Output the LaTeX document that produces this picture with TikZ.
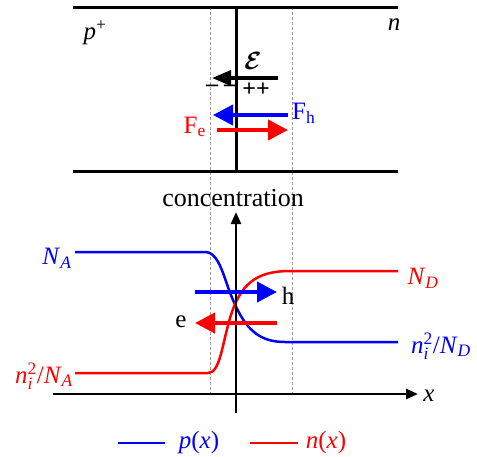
\documentclass[tikz,border=0pt]{standalone}
\usepackage{amsmath}
\usepackage{fontspec}
\setmainfont{Liberation Serif}
\usetikzlibrary{arrows.meta}
\definecolor{myred}{RGB}{255,0,0}
\definecolor{myblue}{RGB}{0,0,255}
\newcommand{\nisq}{$\text{\textit{n}}_{\text{\textit{i}}}^{\text{2}}$}
\begin{document}
\begin{tikzpicture}[x=1pt,y=-1pt,
  lbl/.style={font=\fontsize{25}{28}\selectfont, inner sep=0pt},
  thickline/.style={line width=3pt},
  guide/.style={gray!80, line width=0.6pt, dash pattern=on 3pt off 2pt},
  bigarrow/.style={line width=4pt, -{Triangle[length=20pt,width=20pt]}},
  earrow/.style={line width=3.5pt, -{Triangle[length=19pt,width=15pt]}},
  axis/.style={line width=2.5pt, -{Triangle[length=12pt,width=10pt]}},
  curve/.style={line width=2.5pt},
  charge/.style={font=\fontsize{24}{24}\selectfont\bfseries, inner sep=0pt},
]
\useasboundingbox (0,0) rectangle (477,456);
% guides
\coordinate (g1t) at (210,7);
\coordinate (g1b) at (210,393);
\coordinate (g2t) at (292,7);
\coordinate (g2b) at (292,393);
\draw[guide] (g1t) -- (g1b);
\draw[guide] (g2t) -- (g2b);
% top panel
\coordinate (tl) at (73,7);
\coordinate (tr) at (398,7);
\coordinate (bl) at (73,171);
\coordinate (br) at (398,171);
\coordinate (jt) at (236,7);
\coordinate (jb) at (236,171);
\draw[thickline] (tl) -- (tr);
\draw[thickline] (bl) -- (br);
\draw[thickline] (jt) -- (jb);
\node[lbl] (pplus) at (95,33) {\textit{p}\textsuperscript{+}};
\node[lbl] (nlab) at (394,25) {\textit{n}};
\coordinate (Es) at (278,78);
\coordinate (Ee) at (212,78);
\draw[earrow] (Es) -- (Ee);
\node[lbl, font=\fontsize{32}{34}\selectfont] (Elab) at (253,61) {$\boldsymbol{\mathcal{E}}$};
\node[charge] (minus) at (221,88) {– –};
\node[charge] (plus) at (256,90) {++};
\coordinate (Fhs) at (288,115);
\coordinate (Fhe) at (213,115);
\draw[bigarrow, myblue] (Fhs) -- (Fhe);
\node[lbl, myblue, anchor=west] (Fh) at (292,113) {F\textsubscript{h}};
\coordinate (Fes) at (217,130);
\coordinate (Fee) at (288,130);
\draw[bigarrow, myred] (Fes) -- (Fee);
\node[lbl, myred, anchor=east] (Fe) at (206,127) {F\textsubscript{e}};
% bottom panel
\node[lbl, font=\fontsize{26}{28}\selectfont] (conc) at (233,198) {concentration};
\coordinate (ya) at (236,413);
\coordinate (yb) at (236,212);
\coordinate (xa) at (53,394);
\coordinate (xb) at (418,394);
% curves
\draw[curve, myblue] (75,252) -- (205,252) .. controls (220,252) and (224,280) .. (233,300) .. controls (245,328) and (258,342) .. (285,342) -- (398,342);
\draw[curve, myred] (75,373) -- (208,373) .. controls (220,373) and (222,345) .. (230,318) .. controls (240,285) and (255,271) .. (290,271) -- (398,271);
\draw[axis] (ya) -- (yb);
\draw[axis] (xa) -- (xb);
\node[lbl] (xlab) at (429,396) {\textit{x}};
\node[lbl, myblue] (NA) at (57,258) {\textit{N}\textsubscript{\textit{A}}};
\node[lbl, myred] (ND) at (423,278) {\textit{N}\textsubscript{\textit{D}}};
\node[lbl, myblue] (niND) at (441,346) {\nisq/\textit{N}\textsubscript{\textit{D}}};
\node[lbl, myred] (niNA) at (44,376) {\nisq/\textit{N}\textsubscript{\textit{A}}};
\coordinate (hs) at (195,292);
\coordinate (he) at (277,292);
\draw[bigarrow, myblue] (hs) -- (he);
\node[lbl] (hlab) at (288,296) {h};
\coordinate (es) at (277,323);
\coordinate (ee) at (195,323);
\draw[bigarrow, myred] (es) -- (ee);
\node[lbl] (elab) at (181,322) {e};
% legend
\coordinate (lb1) at (118,443);
\coordinate (lb2) at (165,443);
\coordinate (lr1) at (250,443);
\coordinate (lr2) at (298,443);
\draw[curve, myblue] (lb1) -- (lb2);
\draw[curve, myred] (lr1) -- (lr2);
\node[lbl, myblue] (plab) at (199,442) {\textit{p}(\textit{x})};
\node[lbl, myred] (nxlab) at (326,442) {\textit{n}(\textit{x})};
\end{tikzpicture}
\end{document}
